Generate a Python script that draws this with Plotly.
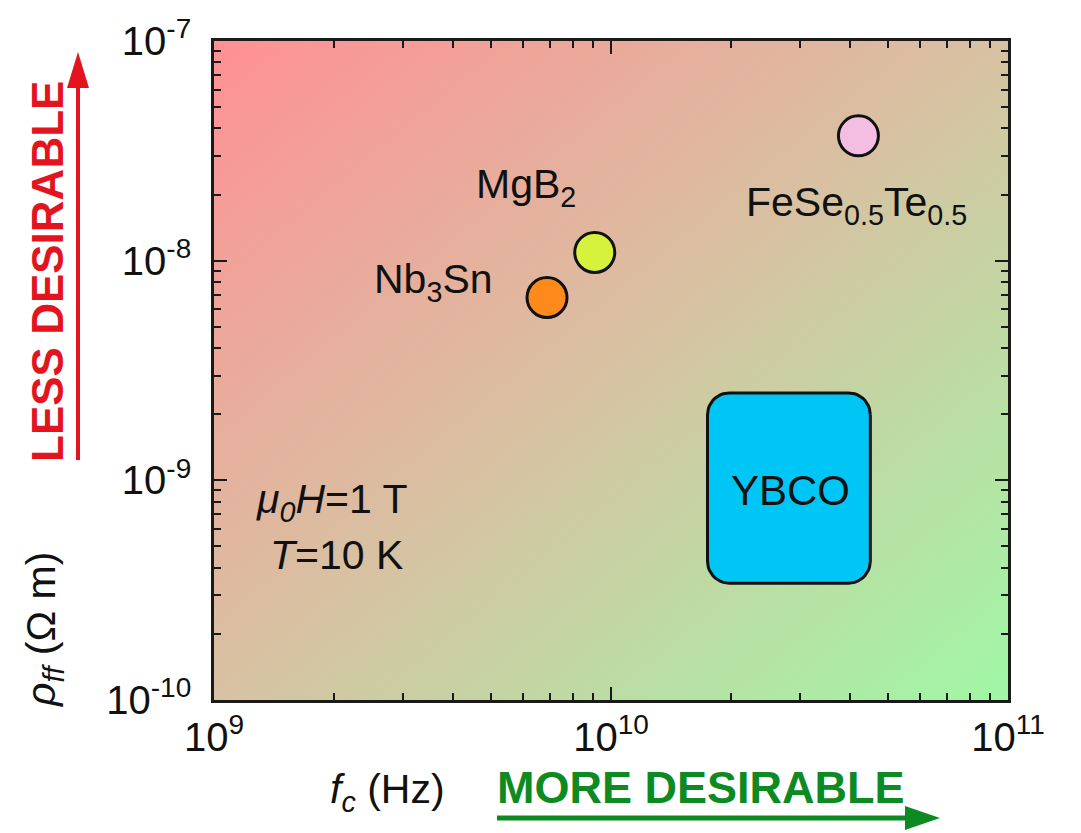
import base64
import numpy as np
import plotly.graph_objects as go

# Materials: critical (depinning) frequency vs flux-flow resistivity at 1 T, 10 K
materials = ["Nb<sub>3</sub>Sn", "MgB<sub>2</sub>", "FeSe<sub>0.5</sub>Te<sub>0.5</sub>"]
fc_hz = [6.9e9, 9.1e9, 4.2e10]
rho_ff = [6.8e-9, 1.09e-8, 3.7e-8]
marker_colors = ["#FF8A1C", "#D6F23C", "#F4BEE2"]

# YBCO spans a region rather than a single point
ybco_fc = [1.75e10, 4.5e10]
ybco_rho = [3.4e-10, 2.5e-9]

x_tick_vals = [1e9, 1e10, 1e11]
x_tick_text = ["10<sup>9</sup>", "10<sup>10</sup>", "10<sup>11</sup>"]
y_tick_vals = [1e-10, 1e-9, 1e-8, 1e-7]
y_tick_text = ["10<sup>-10</sup>", "10<sup>-9</sup>", "10<sup>-8</sup>", "10<sup>-7</sup>"]

W, H = 1081, 833
ML, MR, MT, MB = 214, 73, 41, 133
PW, PH = W - ML - MR, H - MT - MB


def paper_x(px):
    return (px - ML) / PW


def paper_y(py):
    return (H - MB - py) / PH


SANS = "Liberation Sans, Arial, sans-serif"
RED = "#E3141E"
GREEN = "#0E8A22"

fig = go.Figure()

# rounded YBCO block, built in log space so the corners stay round on screen
lx0, lx1 = np.log10(ybco_fc)
ly0, ly1 = np.log10(ybco_rho)
rx, ry = 0.055, 0.10
corners = [(lx1 - rx, ly1 - ry, 0), (lx0 + rx, ly1 - ry, 90),
           (lx0 + rx, ly0 + ry, 180), (lx1 - rx, ly0 + ry, 270)]
bx, by = [], []
for cx, cy, a0 in corners:
    t = np.radians(np.linspace(a0, a0 + 90, 12))
    bx.extend(10 ** (cx + rx * np.cos(t)))
    by.extend(10 ** (cy + ry * np.sin(t)))
bx.append(bx[0])
by.append(by[0])
fig.add_trace(go.Scatter(x=bx, y=by, mode="lines", fill="toself",
                         fillcolor="#00C6F6", line=dict(color="#111111", width=3),
                         hoverinfo="skip", showlegend=False))

fig.add_trace(go.Scatter(
    x=fc_hz, y=rho_ff, mode="markers", showlegend=False,
    marker=dict(size=40, color=marker_colors, line=dict(color="#111111", width=3)),
))

axis_common = dict(
    type="log", showgrid=False, zeroline=False, showline=True,
    linecolor="#1a1a1a", linewidth=2.5, mirror="ticks",
    ticks="inside", ticklen=13, tickwidth=2, tickcolor="#1a1a1a",
    tickfont=dict(family=SANS, size=40, color="#111111"),
    minor=dict(ticks="inside", ticklen=7, tickwidth=1.5, tickcolor="#1a1a1a",
               dtick="D1", showgrid=False),
)

fig.update_layout(
    width=W, height=H,
    margin=dict(l=ML, r=MR, t=MT, b=MB),
    paper_bgcolor="white", plot_bgcolor="white",
    xaxis=dict(axis_common, range=[9, 11], tickmode="array",
               tickvals=x_tick_vals, ticktext=x_tick_text),
    yaxis=dict(axis_common, range=[-10, -7], tickmode="array",
               tickvals=y_tick_vals, ticktext=y_tick_text, ticklabelstandoff=12),
)

# diagonal red -> tan -> green backdrop
svg = ('<svg xmlns="http://www.w3.org/2000/svg" width="200" height="200" '
       'viewBox="0 0 200 200" preserveAspectRatio="none"><defs>'
       '<linearGradient id="g" x1="0" y1="0" x2="1" y2="1">'
       '<stop offset="0" stop-color="#FF9094"/>'
       '<stop offset="0.5" stop-color="#D7C2A2"/>'
       '<stop offset="1" stop-color="#A0F7A6"/>'
       '</linearGradient></defs><rect width="200" height="200" fill="url(#g)"/></svg>')
fig.add_layout_image(
    source="data:image/svg+xml;base64," + base64.b64encode(svg.encode()).decode(),
    xref="paper", yref="paper", x=0, y=1, sizex=1, sizey=1,
    sizing="stretch", layer="below",
)

label_font = dict(family=SANS, size=41, color="#111111")


def text(s, px, py, xanchor="left", yanchor="middle", font=label_font, angle=0):
    fig.add_annotation(text=s, x=paper_x(px), y=paper_y(py), xref="paper", yref="paper",
                       xanchor=xanchor, yanchor=yanchor, showarrow=False,
                       font=font, textangle=angle)


# material labels
text(materials[0], 372, 282)
text(materials[1], 474, 187)
text(materials[2], 744, 205)
text("YBCO", 790, 490, xanchor="center", font=dict(label_font, size=42))

# measurement conditions
text("<i>μ</i><sub><i>0</i></sub><i>H</i>=1 T", 254, 502)
text("<i>T</i>=10 K", 268, 555)

# axis titles
text("<i>f</i><sub><i>c</i></sub> (Hz)", 328, 792)
text("<i>ρ</i><sub><i>ff</i></sub> (Ω m)", 44, 630, xanchor="center", angle=-90)

# desirability arrows
bold_red = dict(family=SANS, size=44, color=RED, weight="bold")
bold_green = dict(family=SANS, size=45, color=GREEN, weight="bold")
text("LESS DESIRABLE", 47, 272, xanchor="center", font=bold_red, angle=-90)
text("MORE DESIRABLE", 701, 787, xanchor="center", font=bold_green)

fig.add_shape(type="line", xref="paper", yref="paper",
              x0=paper_x(78), y0=paper_y(460), x1=paper_x(78), y1=paper_y(82),
              line=dict(color=RED, width=4))
fig.add_shape(type="path", xref="paper", yref="paper", fillcolor=RED, line=dict(width=0),
              path=f"M {paper_x(78)} {paper_y(52)} L {paper_x(67)} {paper_y(88)} "
                   f"L {paper_x(89)} {paper_y(88)} Z")
fig.add_shape(type="line", xref="paper", yref="paper",
              x0=paper_x(497), y0=paper_y(818), x1=paper_x(910), y1=paper_y(818),
              line=dict(color=GREEN, width=5))
fig.add_shape(type="path", xref="paper", yref="paper", fillcolor=GREEN, line=dict(width=0),
              path=f"M {paper_x(940)} {paper_y(818)} L {paper_x(905)} {paper_y(806)} "
                   f"L {paper_x(905)} {paper_y(830)} Z")

fig.write_html("out.html")
